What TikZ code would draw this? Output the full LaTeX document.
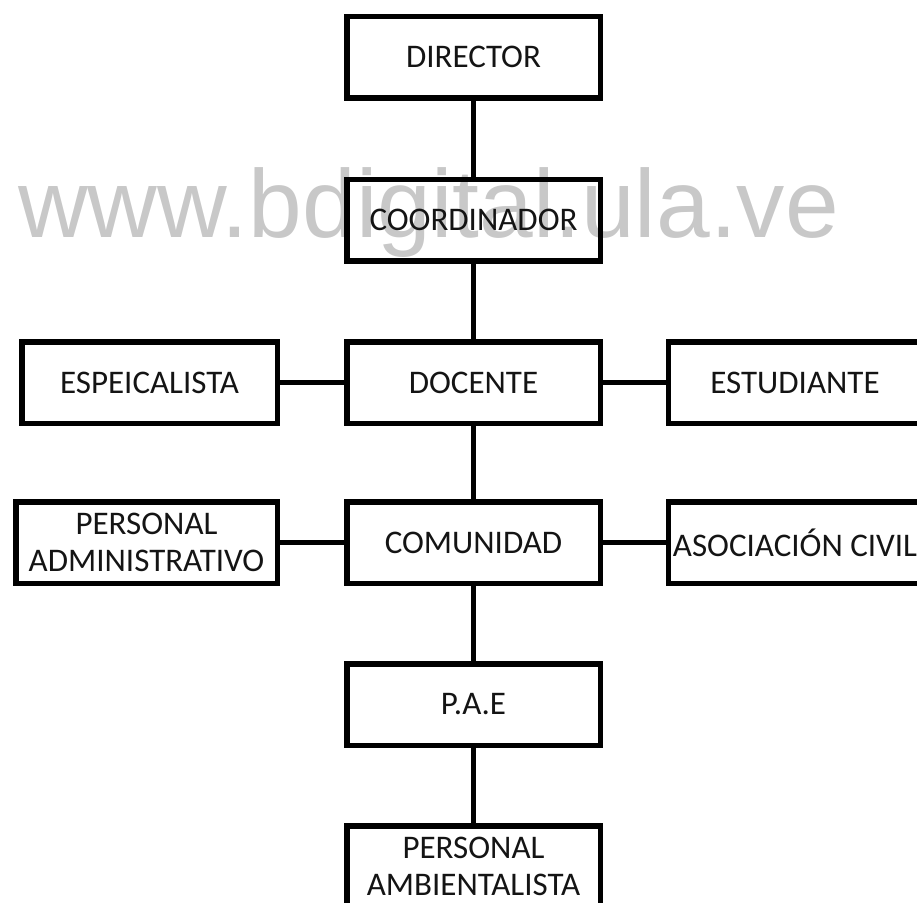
\documentclass[tikz,border=0pt]{standalone}
\usepackage{fontspec}
\setmainfont{Carlito}
\newfontfamily\wmfont{Liberation Sans}
\definecolor{wmgray}{RGB}{200,200,200}
\definecolor{ink}{RGB}{20,20,20}
\tikzset{
  orgbox/.style={draw=black, line width=5.5pt, minimum width=253.5pt, minimum height=81.5pt,
    inner sep=0pt, align=center, text=ink, font=\fontsize{33}{37}\selectfont},
  link/.style={draw=black, line width=5.5pt}
}
\begin{document}
\begin{tikzpicture}[x=1pt,y=-1pt]
\useasboundingbox (0,0) rectangle (917,902);
\clip (0,0) rectangle (917,902);
% watermark
\node[anchor=base west, inner sep=0pt, text=wmgray, font=\wmfont\fontsize{96.5}{96.5}\selectfont] (wm) at (18,237) {www.bdigital.ula.ve};
% boxes
\node[orgbox] (dir) at (473.5,57) {DIRECTOR};
\node[orgbox] (coo) at (473.5,220) {COORDINADOR};
\node[orgbox] (doc) at (473.5,382.5) {DOCENTE};
\node[orgbox] (com) at (473.5,542.5) {COMUNIDAD};
\node[orgbox] (pae) at (473.5,704.5) {P.A.E};
\node[orgbox] (amb) at (473.5,866.5) {PERSONAL\\AMBIENTALISTA};
\node[orgbox, minimum width=255.5pt] (esp) at (149.5,382.5) {ESPEICALISTA};
\node[orgbox, minimum width=261.5pt] (adm) at (146.5,542.5) {PERSONAL\\ADMINISTRATIVO};
\node[orgbox] (est) at (795,382.5) {ESTUDIANTE};
\node[orgbox] (aso) at (795,542.5) {ASOCIACIÓN CIVIL};
% connectors
\draw[link] (dir) -- (coo);
\draw[link] (coo) -- (doc);
\draw[link] (doc) -- (com);
\draw[link] (com) -- (pae);
\draw[link] (pae) -- (amb);
\draw[link] (esp) -- (doc);
\draw[link] (doc) -- (est);
\draw[link] (adm) -- (com);
\draw[link] (com) -- (aso);
\end{tikzpicture}
\end{document}
